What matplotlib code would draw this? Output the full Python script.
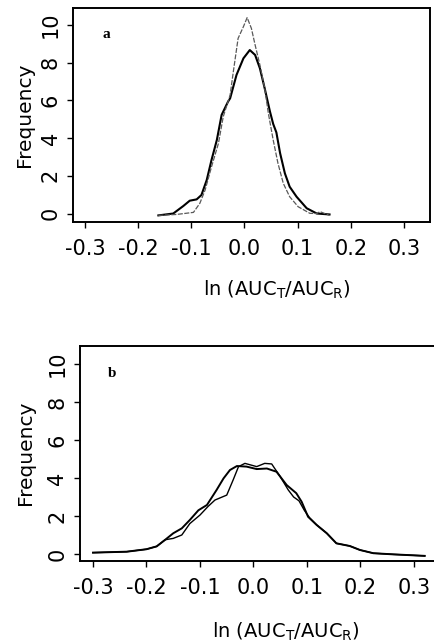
import matplotlib
matplotlib.use('Agg')
import matplotlib.pyplot as plt

plt.rcParams['font.family'] = ['DejaVu Sans']
plt.rcParams['mathtext.default'] = 'regular'

#################### data ########################

xticks = [-0.3, -0.2, -0.1, 0.0, 0.1, 0.2, 0.3]
xticklabels = ['-0.3', '-0.2', '-0.1', '0.0', '0.1', '0.2', '0.3']
yticks = [0, 2, 4, 6, 8, 10]

# panel a, solid curve
a_x1 = [-0.162, -0.134, -0.115, -0.103, -0.090, -0.081, -0.071, -0.062, -0.052,
        -0.043, -0.031, -0.027, -0.015, -0.002, 0.010, 0.020, 0.029, 0.038,
        0.048, 0.054, 0.060, 0.067, 0.076, 0.085, 0.098, 0.117, 0.136, 0.160]
a_y1 = [-0.1, 0.0, 0.4, 0.68, 0.75, 0.98, 1.78, 2.84, 3.9,
        5.23, 5.93, 6.11, 7.35, 8.23, 8.67, 8.41, 7.7, 6.64,
        5.4, 4.75, 4.3, 3.2, 2.13, 1.42, 0.89, 0.28, 0.0, -0.05]

# panel a, dashed curve
a_x2 = [-0.162, -0.128, -0.096, -0.084, -0.074, -0.062, -0.049, -0.040, -0.034,
        -0.027, -0.021, -0.012, -0.002, 0.005, 0.013, 0.020, 0.029, 0.038,
        0.045, 0.054, 0.063, 0.073, 0.085, 0.101, 0.123, 0.136, 0.142, 0.160]
a_y2 = [-0.1, -0.05, 0.06, 0.54, 1.25, 2.48, 3.72, 5.13, 5.67,
        6.29, 7.52, 9.29, 9.91, 10.39, 9.82, 8.94, 7.88, 6.64,
        5.3, 3.9, 2.66, 1.6, 0.89, 0.36, 0.01, 0.0, 0.1, -0.1]

# panel b, first curve
b_x1 = [-0.300, -0.237, -0.200, -0.181, -0.165, -0.150, -0.134, -0.119, -0.103,
        -0.087, -0.069, -0.056, -0.044, -0.031, -0.013, 0.006, 0.025, 0.043,
        0.062, 0.080, 0.090, 0.102, 0.118, 0.137, 0.155, 0.180, 0.199, 0.224,
        0.261, 0.320]
b_y1 = [0.07, 0.12, 0.25, 0.4, 0.75, 1.09, 1.35, 1.79, 2.3,
        2.58, 3.37, 3.98, 4.42, 4.63, 4.6, 4.47, 4.5, 4.33,
        3.63, 3.2, 2.75, 1.96, 1.53, 1.09, 0.56, 0.42, 0.21, 0.04,
        -0.02, -0.1]

# panel b, second curve
b_x2 = [-0.300, -0.237, -0.200, -0.181, -0.165, -0.150, -0.134, -0.119, -0.100,
        -0.085, -0.072, -0.050, -0.038, -0.028, -0.016, 0.006, 0.021, 0.034,
        0.050, 0.065, 0.075, 0.085, 0.095, 0.105, 0.118, 0.137, 0.155, 0.180,
        0.199, 0.224, 0.261, 0.320]
b_y2 = [0.07, 0.12, 0.25, 0.4, 0.75, 0.82, 1.0, 1.6, 2.05,
        2.5, 2.84, 3.1, 3.9, 4.6, 4.77, 4.6, 4.77, 4.74,
        4.07, 3.37, 3.0, 2.8, 2.3, 1.9, 1.53, 1.09, 0.56, 0.42,
        0.21, 0.04, -0.02, -0.1]

#################### figure ########################

fig = plt.figure(figsize=(4.34, 6.43), dpi=100)

xlab = r'ln (AUC$_{T}$/AUC$_{R}$)'


def style(ax, xlim, ylim):
    ax.set_xlim(xlim)
    ax.set_ylim(ylim)
    ax.set_xticks(xticks)
    ax.set_xticklabels(xticklabels)
    ax.set_yticks(yticks)
    for lab in ax.get_yticklabels():
        lab.set_rotation(90)
        lab.set_va('center')
    ax.tick_params(axis='both', direction='out', length=4, width=1, labelsize=15)
    ax.tick_params(axis='x', pad=8)
    ax.tick_params(axis='y', pad=5)
    for s in ax.spines.values():
        s.set_linewidth(1.4)


# panel a
ax1 = fig.add_axes([73/434, 1-222/643, 357/434, 214/643])
ax1.plot(a_x1, a_y1, color='black', lw=1.5)
ax1.plot(a_x2, a_y2, color='0.35', lw=0.9, ls=(0, (4, 1.2)))
style(ax1, (-0.3226, 0.349), (-0.45, 10.9))
ax1.set_xlabel(xlab, fontsize=14, va='center')
ax1.xaxis.set_label_coords(0.571, -0.318)
ax1.set_ylabel('Frequency', fontsize=14.5, va='center')
ax1.yaxis.set_label_coords(-0.1345, 0.5)
ax1.text(0.092, 0.878, 'a', transform=ax1.transAxes, fontsize=11,
         fontweight='bold', family='Liberation Serif', va='center', ha='center')

# panel b
ax2 = fig.add_axes([80/434, 1-561/643, 361/434, 215/643])
ax2.plot(b_x1, b_y1, color='black', lw=1.4)
ax2.plot(b_x2, b_y2, color='black', lw=1.0)
style(ax2, (-0.3243, 0.3505), (-0.37, 10.95))
ax2.set_xlabel(xlab, fontsize=14, va='center')
ax2.xaxis.set_label_coords(0.571, -0.330)
ax2.set_ylabel('Frequency', fontsize=14.5, va='center')
ax2.yaxis.set_label_coords(-0.152, 0.502)
ax2.text(0.089, 0.874, 'b', transform=ax2.transAxes, fontsize=11,
         fontweight='bold', family='Liberation Serif', va='center', ha='center')

fig.savefig('out.png', dpi=100)
